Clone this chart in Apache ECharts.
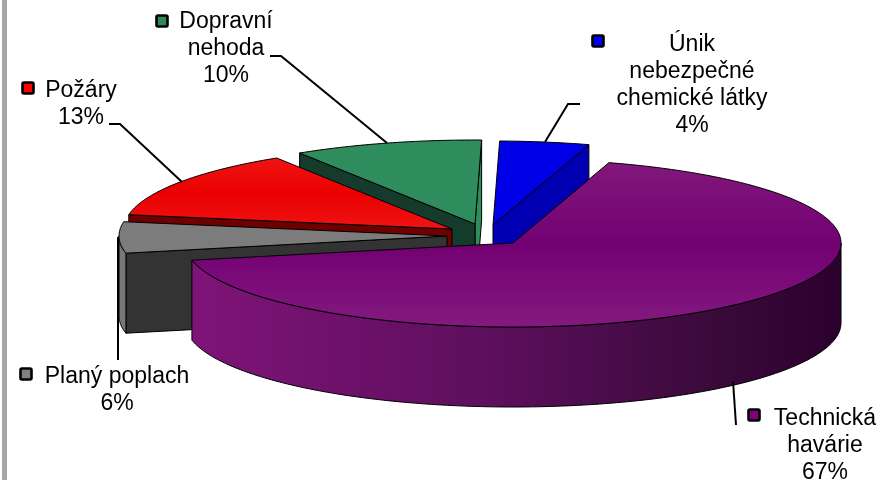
<!DOCTYPE html>
<html>
<head>
<meta charset="utf-8">
<style>html,body{margin:0;padding:0;background:#fff}#c{width:883px;height:480px}</style>
<script src="https://cdn.jsdelivr.net/npm/echarts@6/dist/echarts.min.js"></script>
</head>
<body>
<div id="c"></div>
<script>
// Data (paint order: back to front, angles accumulate counter-clockwise)
const categories = ['Únik nebezpečné chemické látky', 'Dopravní nehoda', 'Požáry', 'Planý poplach', 'Technická havárie'];
const values = [4.4, 9.3, 13.3, 6, 67];

// Layout and style, separate from the data
const START_ANGLE = 73, RX = 328, RY = 84, DEPTH = 80;
const centers = [[493, 225], [475, 224], [452, 229], [447, 236], [513, 243]];
const topFills = [
  '#0000e6', '#2f8c5d',
  { type: 'linear', x: 0, y: 0, x2: 0, y2: 1, colorStops: [{offset: 0, color: '#f01414'}, {offset: .5, color: '#ea0000'}, {offset: 1, color: '#f01414'}] },
  '#7c7c7c',
  { type: 'linear', x: 0, y: 0, x2: 0, y2: 1, colorStops: [{offset: 0, color: '#82187c'}, {offset: .5, color: '#720072'}, {offset: 1, color: '#841a80'}] }
];
const startWall = ['#0000b2', '#2f8c5d', '#6e0000', '#333333', '#300030'];
const endWall = ['#0000b2', '#143b2b', '#6e0000', '#333333', '#300030'];
const arcWall = [
  '#0000b2', '#143b2b', '#6e0000', '#767676',
  { type: 'linear', x: 0, y: 0, x2: 1, y2: 0, colorStops: [{offset: 0, color: '#7f1478'}, {offset: .45, color: '#5e0f5e'}, {offset: .8, color: '#3a0a3a'}, {offset: 1, color: '#2c002e'}] }
];
const labelLines = [
  ['Únik', 'nebezpečné', 'chemické látky', '4%'],
  ['Dopravní', 'nehoda', '10%'],
  ['Požáry', '13%'],
  ['Planý poplach', '6%'],
  ['Technická', 'havárie', '67%']
];
const labelPos = [[692, 51], [226, 28], [81, 97], [117, 383], [825, 425]];
const keyPos = [[591, 34], [155, 14], [21, 81], [19, 367], [747, 408]];
const keyFill = ['#0000ff', '#2e8b57', '#ff0000', '#808080', '#800080'];
const leaders = [
  [[580, 104], [568, 104], [545, 142]],
  [[270, 56], [281, 56], [387, 143]],
  [[109, 124], [120, 124], [182, 182]],
  [[118, 237], [118, 360]],
  [[733, 381], [736, 425]]
];
const FONT = '23px "Liberation Sans", Arial, sans-serif';
const LINE_H = 27;
const BASELINE_SHIFT = 18;

const total = values.reduce((a, b) => a + b, 0);
const rad = d => d * Math.PI / 180;

function rim(c, a, dy) {
  return [c[0] + RX * Math.cos(rad(a)), c[1] - RY * Math.sin(rad(a)) + (dy || 0)];
}
function arcPoints(c, a0, a1, dy) {
  const pts = [];
  const n = Math.max(2, Math.ceil(Math.abs(a1 - a0)));
  for (let k = 0; k <= n; k++) pts.push(rim(c, a0 + (a1 - a0) * k / n, dy));
  return pts;
}
const sliceStyle = fill => ({ fill, stroke: '#000', lineWidth: 1, lineJoin: 'round' });

function renderItem(params, api) {
  const i = params.dataIndex;
  let sum = 0;
  for (let k = 0; k < i; k++) sum += values[k];
  const a0 = START_ANGLE + 360 * sum / total;
  const a1 = a0 + 360 * api.value(1) / total;
  const c = centers[i];
  const ch = [];
  let z = i * 20;
  const poly = (points, fill) => ch.push({ type: 'polygon', z2: z++, shape: { points }, style: sliceStyle(fill) });

  if (Math.cos(rad(a0)) > 0) {
    const p = rim(c, a0);
    poly([c, p, [p[0], p[1] + DEPTH], [c[0], c[1] + DEPTH]], startWall[i]);
  }
  if (Math.cos(rad(a1)) < 0) {
    const p = rim(c, a1);
    poly([c, p, [p[0], p[1] + DEPTH], [c[0], c[1] + DEPTH]], endWall[i]);
  }
  for (const off of [0, 360]) {
    const lo = Math.max(a0, 180 + off), hi = Math.min(a1, 360 + off);
    if (hi > lo) {
      poly(arcPoints(c, lo, hi, 0).concat(arcPoints(c, hi, lo, DEPTH)), arcWall[i]);
    }
  }
  poly([c].concat(arcPoints(c, a0, a1, 0)), topFills[i]);
  return { type: 'group', children: ch };
}

function annotations() {
  const out = [{ type: 'rect', left: 2, top: 0, shape: { width: 5, height: 480 }, style: { fill: '#a6a6a6' } }];
  leaders.forEach(l => out.push({
    type: 'polyline', z: 20, shape: { points: l }, style: { fill: 'none', stroke: '#000', lineWidth: 2 }
  }));
  labelLines.forEach((lines, i) => {
    out.push({
      type: 'rect', z: 21, x: keyPos[i][0] + 1.5, y: keyPos[i][1] + 1.5,
      shape: { width: 11, height: 11, r: 1.5 },
      style: { fill: keyFill[i], stroke: '#000', lineWidth: 2.6 }
    });
    lines.forEach((t, j) => out.push({
      type: 'text', z: 21, x: labelPos[i][0], y: labelPos[i][1] + j * LINE_H - BASELINE_SHIFT,
      style: { text: t, font: FONT, fill: '#000', textAlign: 'center' }
    }));
  });
  return out;
}

const chart = echarts.init(document.getElementById('c'), null, { width: 883, height: 480 });
chart.setOption({
  backgroundColor: '#fff',
  animation: false,
  series: [{
    type: 'custom',
    coordinateSystem: 'none',
    renderItem,
    data: categories.map((name, i) => ({ name, value: [i, values[i]] }))
  }],
  graphic: { elements: annotations() }
});
</script>
</body>
</html>
